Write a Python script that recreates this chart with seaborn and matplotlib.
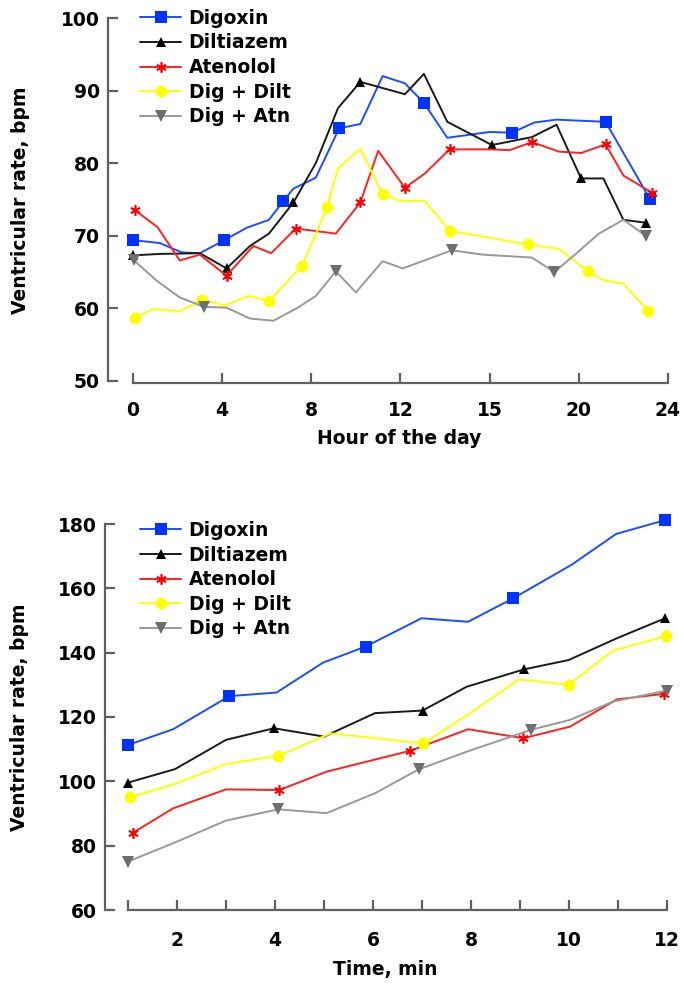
import matplotlib
matplotlib.use("Agg")
import matplotlib.pyplot as plt
import seaborn as sns

# ---------------- top panel data (hour of day) ----------------
series_names = ["Digoxin", "Diltiazem", "Atenolol", "Dig + Dilt", "Dig + Atn"]

dig_h = [0, 1.2, 2.2, 3.0, 4.1, 5.1, 6.1, 6.75, 7.2, 8.2, 9.25, 10.2, 11.2, 12.2, 13.05, 14.1, 16.0, 17.0, 18.0, 19.0, 21.2, 23.2]
dig_v = [69.4, 69.0, 67.7, 67.6, 69.4, 71.1, 72.2, 74.8, 76.5, 78.0, 84.8, 85.4, 92.0, 91.0, 88.3, 83.5, 84.3, 84.2, 85.6, 86.0, 85.7, 75.0]
dig_mk = [0, 4, 7, 10, 14, 17, 20, 21]

dil_h = [0, 1.2, 3.0, 4.2, 5.25, 6.1, 7.2, 8.2, 9.2, 10.2, 12.2, 13.05, 14.1, 16.1, 17.9, 19.0, 20.1, 21.1, 22.0, 23.0]
dil_v = [67.3, 67.5, 67.6, 65.5, 68.6, 70.3, 74.6, 80.0, 87.6, 91.2, 89.5, 92.3, 85.7, 82.5, 83.6, 85.3, 77.9, 77.9, 72.2, 71.8]
dil_mk = [0, 3, 6, 9, 13, 16, 19]

ate_h = [0.1, 1.1, 2.1, 3.0, 4.2, 5.4, 6.2, 7.3, 9.1, 10.2, 11.0, 12.2, 13.1, 14.2, 16.0, 16.9, 17.9, 19.1, 20.1, 21.2, 22.0, 23.3]
ate_v = [73.5, 71.2, 66.6, 67.4, 64.5, 68.6, 67.6, 71.0, 70.3, 74.6, 81.7, 76.6, 78.6, 81.9, 81.9, 81.8, 82.9, 81.6, 81.4, 82.6, 78.3, 75.9]
ate_mk = [0, 4, 7, 9, 11, 13, 16, 19, 21]

dd_h = [0.1, 0.9, 2.1, 3.1, 4.1, 5.2, 6.1, 7.6, 8.7, 9.2, 10.2, 11.2, 12.0, 13.1, 14.2, 17.7, 19.1, 20.4, 21.1, 22.0, 23.1]
dd_v = [58.7, 59.9, 59.6, 61.2, 60.4, 61.7, 61.0, 65.9, 73.9, 79.3, 82.0, 75.7, 74.8, 74.8, 70.7, 68.8, 68.2, 65.1, 63.9, 63.4, 59.7]
dd_mk = [0, 3, 6, 7, 8, 11, 14, 15, 17, 20]

da_h = [0.05, 1.07, 2.1, 3.2, 4.2, 5.25, 6.3, 7.4, 8.2, 9.1, 10.0, 11.2, 12.1, 14.3, 15.7, 17.9, 18.9, 19.9, 20.9, 22.0, 23.0]
da_v = [66.6, 63.8, 61.5, 60.2, 60.1, 58.6, 58.3, 60.1, 61.7, 65.1, 62.2, 66.5, 65.5, 68.0, 67.4, 67.0, 65.0, 67.6, 70.3, 72.2, 70.0]
da_mk = [0, 3, 9, 13, 16, 20]

top_xticks = [0, 4, 8, 12, 16, 20, 24]
top_xticklabels = ["0", "4", "8", "12", "15", "20", "24"]
top_yticks = [50, 60, 70, 80, 90, 100]

# ---------------- bottom panel data (time, min) ----------------
b_dig_t = [1.0, 1.92, 3.07, 4.03, 4.98, 5.85, 6.99, 7.94, 8.86, 10.05, 10.96, 11.96]
b_dig_v = [111.3, 116.2, 126.5, 127.6, 136.9, 141.9, 150.7, 149.6, 156.9, 167.3, 176.9, 181.2]
b_dig_mk = [0, 2, 5, 8, 11]

b_dil_t = [1.0, 1.96, 3.0, 3.98, 5.0, 6.04, 7.01, 7.91, 9.08, 9.99, 10.98, 11.96]
b_dil_v = [99.6, 103.8, 112.9, 116.5, 113.9, 121.2, 122.0, 129.4, 134.8, 137.7, 144.5, 150.7]
b_dil_mk = [0, 3, 6, 8, 11]

b_ate_t = [1.1, 1.92, 3.0, 4.09, 5.05, 6.76, 7.94, 9.07, 10.02, 10.98, 11.94]
b_ate_v = [84.0, 91.6, 97.5, 97.3, 103.0, 109.5, 116.2, 113.4, 117.0, 125.5, 127.2]
b_ate_mk = [0, 3, 5, 7, 10]

b_dd_t = [1.04, 1.96, 3.0, 4.07, 5.13, 7.03, 7.98, 8.98, 9.99, 10.9, 11.98]
b_dd_v = [95.0, 99.2, 105.4, 107.9, 114.9, 111.8, 121.2, 131.7, 130.0, 140.6, 145.2]
b_dd_mk = [0, 3, 5, 8, 10]

b_da_t = [0.99, 1.99, 3.0, 4.07, 5.05, 6.04, 6.93, 7.91, 9.22, 10.02, 10.9, 11.99]
b_da_v = [75.0, 81.2, 87.8, 91.3, 90.1, 96.3, 103.7, 109.2, 116.0, 119.1, 124.8, 128.2]
b_da_mk = [0, 3, 6, 8, 11]

bot_xticks = list(range(1, 13))
bot_xticklabels = ["", "2", "", "4", "", "6", "", "8", "", "10", "", "12"]
bot_yticks = [60, 80, 100, 120, 140, 160, 180]

# ---------------- styling ----------------
sns.set_style("ticks")
plt.rcParams["font.family"] = ["DejaVu Sans"]
plt.rcParams["font.weight"] = "bold"
plt.rcParams["text.color"] = "black"
plt.rcParams["axes.labelcolor"] = "black"
plt.rcParams["xtick.color"] = "black"
plt.rcParams["ytick.color"] = "black"

FS = 13.5
styles = {
    "Digoxin":    dict(color="#1a4dff", marker="s", ms=8, mfc="#0033ff", mec="#0033ff", mew=0),
    "Diltiazem":  dict(color="#1a1a1a", marker="^", ms=7.5, mfc="black", mec="black", mew=0),
    "Atenolol":   dict(color="#ff2020", marker=(6, 2, 0), ms=7.5, mfc="red", mec="red", mew=1.2),
    "Dig + Dilt": dict(color="#ffff00", marker="o", ms=8.5, mfc="#ffff00", mec="#ffff00", mew=0),
    "Dig + Atn":  dict(color="#999999", marker="v", ms=8, mfc="#6e6e6e", mec="#6e6e6e", mew=0),
}

W, H = 684, 985
fig = plt.figure(figsize=(W / 100, H / 100), dpi=100)

ax1 = fig.add_axes([108 / W, 1 - 383 / H, (668 - 108) / W, (383 - 18) / H])
ax2 = fig.add_axes([105 / W, 1 - 910 / H, (668 - 105) / W, (910 - 524) / H])


def draw(ax, name, xs, ys, mk):
    st = styles[name]
    sns.lineplot(x=xs, y=ys, ax=ax, estimator=None, sort=False,
                 color=st["color"], linewidth=1.4, marker=st["marker"],
                 markersize=st["ms"], markerfacecolor=st["mfc"],
                 markeredgecolor=st["mec"], markeredgewidth=st["mew"],
                 markevery=mk, label=name, clip_on=False)


top_sets = [(dig_h, dig_v, dig_mk), (dil_h, dil_v, dil_mk), (ate_h, ate_v, ate_mk),
            (dd_h, dd_v, dd_mk), (da_h, da_v, da_mk)]
bot_sets = [(b_dig_t, b_dig_v, b_dig_mk), (b_dil_t, b_dil_v, b_dil_mk), (b_ate_t, b_ate_v, b_ate_mk),
            (b_dd_t, b_dd_v, b_dd_mk), (b_da_t, b_da_v, b_da_mk)]

for name, (xs, ys, mk) in zip(series_names, top_sets):
    draw(ax1, name, xs, ys, mk)
for name, (xs, ys, mk) in zip(series_names, bot_sets):
    draw(ax2, name, xs, ys, mk)

spine_col = "#606060"
for ax in (ax1, ax2):
    for s in ("top", "right"):
        ax.spines[s].set_visible(False)
    for s in ("left", "bottom"):
        ax.spines[s].set_color(spine_col)
        ax.spines[s].set_linewidth(1.6)
    ax.tick_params(direction="in", length=7, width=1.6, color=spine_col,
                   labelsize=FS, labelcolor="black")

# top axes
ax1.set_xlim(-1.12, 24)
ax1.set_ylim(49.72, 100)
ax1.set_xticks(top_xticks)
ax1.set_xticklabels(top_xticklabels, fontsize=FS, fontweight="bold", color="black")
ax1.set_yticks(top_yticks)
ax1.set_yticklabels([str(v) for v in top_yticks], fontsize=FS, fontweight="bold", color="black")
ax1.spines["bottom"].set_bounds(0, 24)
ax1.spines["left"].set_bounds(50, 100)
ax1.tick_params(axis="x", pad=13)
ax1.tick_params(axis="y", pad=6)
ax1.set_xlabel("Hour of the day", fontsize=FS, fontweight="bold", color="black")
ax1.set_ylabel("Ventricular rate, bpm", fontsize=FS, fontweight="bold", color="black")
ax1.xaxis.set_label_coords(0.52, -0.125)
ax1.yaxis.set_label_coords(-0.14, 0.5)

# bottom axes
ax2.set_xlim(0.53, 12.02)
ax2.set_ylim(60, 180)
ax2.set_xticks(bot_xticks)
ax2.set_xticklabels(bot_xticklabels, fontsize=FS, fontweight="bold", color="black")
ax2.set_yticks(bot_yticks)
ax2.set_yticklabels([str(v) for v in bot_yticks], fontsize=FS, fontweight="bold", color="black")
ax2.spines["bottom"].set_bounds(1, 12)
ax2.spines["left"].set_bounds(60, 180)
ax2.tick_params(axis="x", pad=15)
ax2.tick_params(axis="y", pad=6)
ax2.set_xlabel("Time, min", fontsize=FS, fontweight="bold", color="black")
ax2.set_ylabel("Ventricular rate, bpm", fontsize=FS, fontweight="bold", color="black")
ax2.xaxis.set_label_coords(0.497, -0.13)
ax2.yaxis.set_label_coords(-0.135, 0.5)

leg_kw = dict(frameon=False, loc="upper left", handlelength=2.2,
              handletextpad=0.4, labelspacing=0.3, borderpad=0, borderaxespad=0,
              prop={"weight": "bold", "size": FS})
l1 = ax1.legend(bbox_to_anchor=(0.057, 1.025), **leg_kw)
l2 = ax2.legend(bbox_to_anchor=(0.062, 1.008), **leg_kw)
for lg in (l1, l2):
    for t in lg.get_texts():
        t.set_color("black")

fig.savefig("out.png", dpi=100)
